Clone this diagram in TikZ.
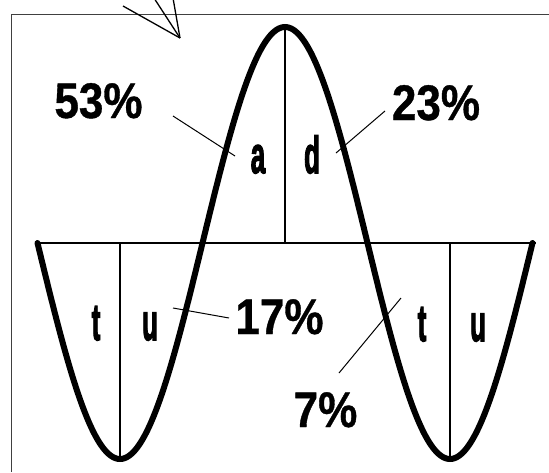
\documentclass[tikz,border=0pt]{standalone}
\usepackage{fontspec}
\setmainfont{Liberation Sans}
\newfontfamily\lettfont[FakeBold=3]{Liberation Sans Bold}
\newfontfamily\pctfont[FakeBold=0.8]{Liberation Sans Bold}
\begin{document}
\begin{tikzpicture}[x=1pt,y=-1pt,
  frameline/.style={draw=black!75, line width=1pt},
  thin/.style={draw=black, line width=1.3pt},
  leader/.style={draw=black, line width=1pt},
  wave/.style={draw=black, line width=6pt, line cap=round},
  axisline/.style={draw=black, line width=2.6pt},
  pct/.style={anchor=base, inner sep=0pt, font=\pctfont\fontsize{50}{50}\selectfont},
  letter/.style={anchor=base, inner sep=0pt, font=\lettfont\fontsize{52}{52}\selectfont}]
\useasboundingbox (0,0) rectangle (549,472);
\begin{scope}
\clip (0,0) rectangle (549,472);
% frame (partially visible)
\draw[frameline] (549,14) -- (11,14) -- (11,472);
% arrow-like lines at top
\coordinate (tip) at (180,38);
\coordinate (t1) at (123,6);
\coordinate (t2) at (154,-2);
\coordinate (t3) at (173,-2);
\draw[thin] (t1) -- (tip);
\draw[thin] (t2) -- (tip);
\draw[thin] (t3) -- (tip);
% axis
\coordinate (axL) at (35,243);
\coordinate (axR) at (536,243);
\draw[axisline] (axL) -- (axR);
% vertical dividers
\coordinate (pk) at (285,27);
\coordinate (pkb) at (285,243);
\coordinate (trL) at (120,458);
\coordinate (trLb) at (120,243);
\coordinate (trR) at (450,458);
\coordinate (trRb) at (450,243);
\draw[thin] (pk) -- (pkb);
\draw[thin] (trLb) -- (trL);
\draw[thin] (trRb) -- (trR);
% wave
\draw[wave] plot[domain=37.5:532.5, samples=241, smooth] (\x, {243+216*cos(1.090909*(\x-120))});
% letters
\node[letter] (la) at (258,173) {\scalebox{0.5}[1]{a}};
\node[letter] (ld) at (312,173) {\scalebox{0.5}[1]{d}};
\node[letter] (lt1) at (96,340) {\scalebox{0.5}[1]{t}};
\node[letter] (lu1) at (150,340) {\scalebox{0.5}[1]{u}};
\node[letter] (lt2) at (422,341) {\scalebox{0.5}[1]{t}};
\node[letter] (lu2) at (478,341) {\scalebox{0.5}[1]{u}};
% percentages
\node[pct] (p53) at (98.5,118) {\scalebox{0.88}[1]{53\%}};
\node[pct] (p23) at (436,120) {\scalebox{0.88}[1]{23\%}};
\node[pct] (p17) at (279.5,334) {\scalebox{0.88}[1]{17\%}};
\node[pct] (p7) at (325.5,427) {\scalebox{0.88}[1]{7\%}};
% leader lines
\coordinate (a53) at (173,116);
\coordinate (b53) at (235,156);
\coordinate (a23) at (385,111);
\coordinate (b23) at (336,153);
\coordinate (a17) at (229,318);
\coordinate (b17) at (173,308);
\coordinate (a7) at (339,373);
\coordinate (b7) at (401,298);
\draw[leader] (a53) -- (b53);
\draw[leader] (a23) -- (b23);
\draw[leader] (a17) -- (b17);
\draw[leader] (a7) -- (b7);
\end{scope}
\end{tikzpicture}
\end{document}
